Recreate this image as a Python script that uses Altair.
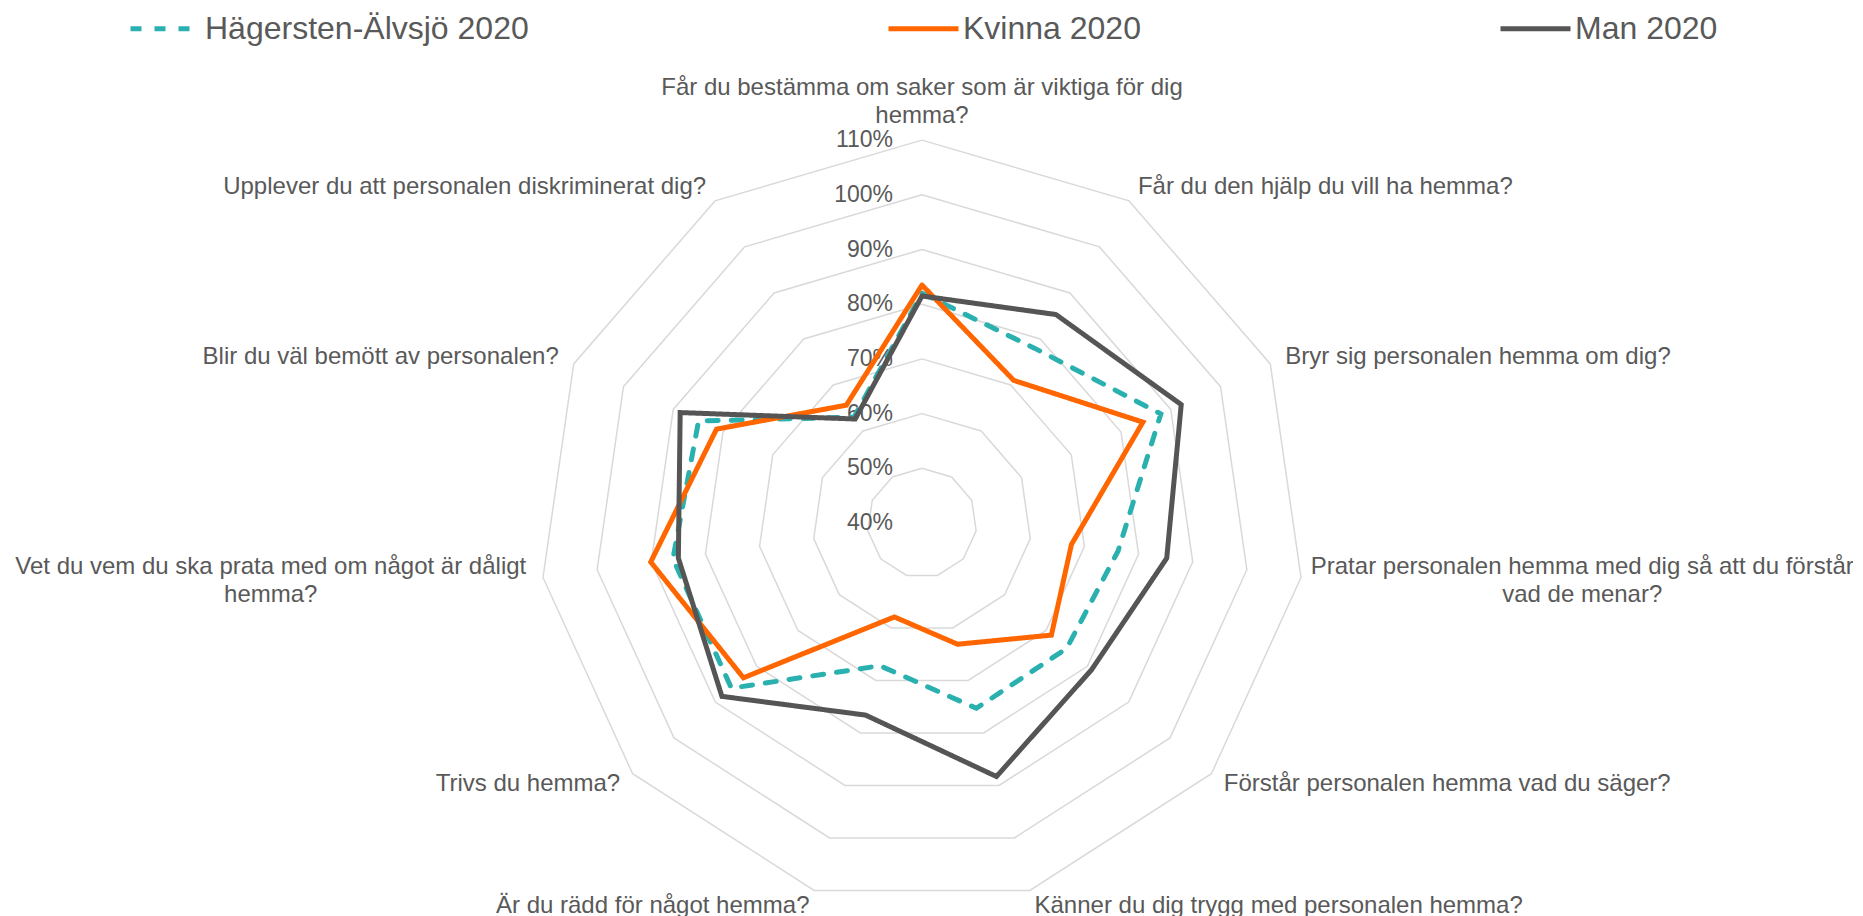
import altair as alt
import pandas as pd

categories = [
    "Får du bestämma om saker som är viktiga för dig\nhemma?",
    "Får du den hjälp du vill ha hemma?",
    "Bryr sig personalen hemma om dig?",
    "Pratar personalen hemma med dig så att du förstår\nvad de menar?",
    "Förstår personalen hemma vad du säger?",
    "Känner du dig trygg med personalen hemma?",
    "Är du rädd för något hemma?",
    "Trivs du hemma?",
    "Vet du vem du ska prata med om något är dåligt\nhemma?",
    "Blir du väl bemött av personalen?",
    "Upplever du att personalen diskriminerat dig?",
]
series_names = ["Hägersten-Älvsjö 2020", "Kvinna 2020", "Man 2020"]
hagersten = [82.0, 78.0, 88.0, 76.2, 75.0, 75.3, 67.2, 86.1, 86.0, 84.9, 63.0]
kvinna = [83.5, 71.0, 84.4, 67.6, 71.3, 63.1, 57.9, 83.2, 90.1, 81.3, 65.6]
man = [81.5, 85.3, 92.1, 85.2, 81.0, 88.3, 76.6, 88.4, 85.0, 88.6, 62.6]
ring_levels = [50, 60, 70, 80, 90, 100, 110]
tick_levels = [40, 50, 60, 70, 80, 90, 100, 110]
tick_labels = ["40%", "50%", "60%", "70%", "80%", "90%", "100%", "110%"]

colors = ["#2BB0B0", "#FF6600", "#555555"]
N = len(categories)
MIN = 40

series_rows = []
for name, vals in zip(series_names, [hagersten, kvinna, man]):
    for i in range(N + 1):
        series_rows.append({"series": name, "idx": i % N, "ord": i, "value": vals[i % N]})
series_df = pd.DataFrame(series_rows)

ring_rows = []
for lvl in ring_levels:
    for i in range(N + 1):
        ring_rows.append({"level": lvl, "idx": i % N, "ord": i, "value": lvl})
ring_df = pd.DataFrame(ring_rows)

tick_df = pd.DataFrame({"value": tick_levels, "label": tick_labels})
cat_df = pd.DataFrame({"idx": list(range(N)), "label": categories, "value": [MIN + 73.0] * N})

W, H = 1845, 908
CX, CY, PX = 914, 515, 5.47
xs = alt.Scale(domain=[-CX / PX, (W - CX) / PX], nice=False, zero=False)
ys = alt.Scale(domain=[-(H - CY) / PX, CY / PX], nice=False, zero=False)


def polar(ch):
    return ch.transform_calculate(
        ang="datum.idx*2*PI/%d" % N,
        r="datum.value-%d" % MIN,
    ).transform_calculate(
        px="datum.r*sin(datum.ang)",
        py="datum.r*cos(datum.ang)",
    )


rings = polar(alt.Chart(ring_df)).mark_line(color="#D9D9D9", strokeWidth=1.5).encode(
    x=alt.X("px:Q", scale=xs, axis=None),
    y=alt.Y("py:Q", scale=ys, axis=None),
    detail="level:N",
    order="ord:Q",
)

ticks = alt.Chart(tick_df).transform_calculate(
    px="0", py="datum.value-%d" % MIN
).mark_text(align="right", baseline="middle", dx=-29, fontSize=23,
            font="Liberation Sans", color="#595959").encode(
    x=alt.X("px:Q", scale=xs, axis=None),
    y=alt.Y("py:Q", scale=ys, axis=None),
    text="label:N",
)

legend_kw = dict(
    title=None, orient="none", legendX=120, legendY=-17, direction="horizontal",
    columns=3, columnPadding=349, symbolType="stroke", symbolSize=4900,
    symbolStrokeWidth=5, labelFontSize=32, labelFont="Liberation Sans",
    labelColor="#595959", labelOffset=2, labelLimit=600,
)

lines = polar(alt.Chart(series_df)).mark_line(strokeWidth=5, strokeCap="round").encode(
    x=alt.X("px:Q", scale=xs, axis=None),
    y=alt.Y("py:Q", scale=ys, axis=None),
    color=alt.Color(
        "series:N",
        scale=alt.Scale(domain=series_names, range=colors),
        legend=alt.Legend(**legend_kw),
    ),
    strokeDash=alt.StrokeDash(
        "series:N",
        scale=alt.Scale(domain=series_names, range=[[11, 13], [1, 0], [1, 0]]),
        legend=alt.Legend(**legend_kw),
    ),
    order="ord:Q",
)

text_style = dict(fontSize=24, font="Liberation Sans", color="#595959", lineBreak="\n", lineHeight=28.5)


def cat_layer(idxs, **kw):
    return polar(alt.Chart(cat_df)).transform_filter(
        alt.FieldOneOfPredicate(field="idx", oneOf=idxs)
    ).mark_text(**text_style, **kw).encode(
        x=alt.X("px:Q", scale=xs, axis=None),
        y=alt.Y("py:Q", scale=ys, axis=None),
        text="label:N",
    )


cat_top = cat_layer([0], align="center", baseline="bottom", dy=-24)
cat_right = cat_layer([1, 2, 4, 5], align="left", baseline="middle")
cat_left = cat_layer([6, 7, 9, 10], align="right", baseline="middle")
cat_r2 = cat_layer([3], align="center", baseline="middle", dx=265, dy=-13)
cat_l2 = cat_layer([8], align="center", baseline="middle", dx=-256, dy=-13)

chart = alt.layer(rings, ticks, lines, cat_top, cat_right, cat_left, cat_r2, cat_l2).properties(
    width=W, height=H, padding=0,
    autosize=alt.AutoSizeParams(type="none"),
    background="white",
).configure_view(stroke=None)

chart.save("out.html", embed_options={"renderer": "svg", "actions": False})
